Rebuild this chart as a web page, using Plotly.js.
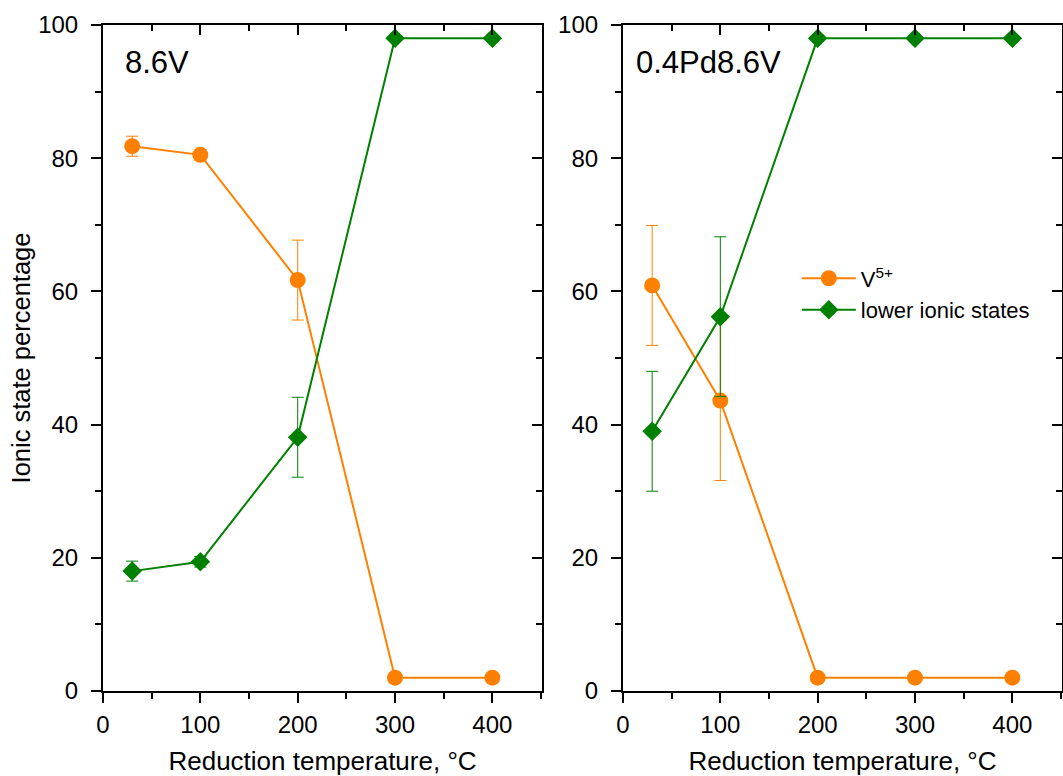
<!DOCTYPE html>
<html>
<head>
<meta charset="utf-8">
<script src="https://cdn.plot.ly/plotly-3.0.1.min.js"></script>
<style>html,body{margin:0;padding:0;background:#fff}#chart{width:1063px;height:776px}</style>
</head>
<body>
<div id="chart"></div>
<script>
// ---- data ----
const tempA = [30, 100, 200, 300, 400];
const v5A = [81.8, 80.5, 61.7, 2, 2];
const v5A_err = [1.5, 0.8, 6, 0, 0];
const lowA = [18.0, 19.4, 38.1, 98, 98];
const lowA_err = [1.5, 0.8, 6, 0, 0];

const tempB = [30, 100, 200, 300, 400];
const v5B = [60.9, 43.6, 2, 2, 2];
const v5B_err = [9, 12, 0, 0, 0];
const lowB = [39.0, 56.2, 98, 98, 98];
const lowB_err = [9, 12, 0, 0, 0];

const seriesNames = ['V<sup>5+</sup>', 'lower ionic states'];
const panelLabels = ['8.6V', '0.4Pd8.6V'];
const xTitle = 'Reduction temperature, °C';
const yTitle = 'Ionic state percentage';

const ORANGE = '#ff8000', GREEN = '#008000';
const FONT = 'Liberation Sans, Arial, sans-serif';

function trace(x, y, err, name, color, symbol, size, xa, ya, showlegend) {
  return {
    x: x, y: y, name: name, type: 'scatter', mode: 'lines+markers',
    xaxis: xa, yaxis: ya, showlegend: showlegend,
    line: {color: color, width: 2},
    marker: {color: color, symbol: symbol, size: size},
    error_y: {type: 'data', array: err, visible: true, color: color, thickness: 1, width: 6}
  };
}

const data = [
  trace(tempA, v5A, v5A_err, seriesNames[0], ORANGE, 'circle', 16, 'x', 'y', false),
  trace(tempA, lowA, lowA_err, seriesNames[1], GREEN, 'diamond', 15, 'x', 'y', false),
  trace(tempB, v5B, v5B_err, seriesNames[0], ORANGE, 'circle', 16, 'x2', 'y2', true),
  trace(tempB, lowB, lowB_err, seriesNames[1], GREEN, 'diamond', 15, 'x2', 'y2', true),
  {x: [], y: [], xaxis: 'x3', yaxis: 'y3', showlegend: false, type: 'scatter'},
  {x: [], y: [], xaxis: 'x4', yaxis: 'y4', showlegend: false, type: 'scatter'}
];

const XR = [0, 451], YR = [0, 100];
const dA = [0, 0.4578], dB = [0.5422, 1];

function xBottom(domain, anchor) {
  return {
    domain: domain, anchor: anchor, range: XR, side: 'bottom',
    showgrid: false, zeroline: false, showline: true, linecolor: 'black', linewidth: 2,
    ticks: 'outside', ticklen: 10, tickwidth: 2, tickcolor: 'black', dtick: 100, tick0: 0,
    minor: {dtick: 50, ticks: 'outside', ticklen: 6, tickwidth: 2, tickcolor: 'black', showgrid: false},
    tickfont: {family: FONT, size: 24, color: 'black'}, ticklabelstandoff: 1,
    title: {text: xTitle, font: {family: FONT, size: 26, color: 'black'}, standoff: 17}
  };
}
function yLeft(anchor, withTitle) {
  const o = {
    domain: [0, 1], anchor: anchor, range: YR, side: 'left',
    showgrid: false, zeroline: false, showline: true, linecolor: 'black', linewidth: 2,
    ticks: 'outside', ticklen: 10, tickwidth: 2, tickcolor: 'black', dtick: 20, tick0: 0,
    minor: {dtick: 10, ticks: 'outside', ticklen: 6, tickwidth: 2, tickcolor: 'black', showgrid: false},
    tickfont: {family: FONT, size: 24, color: 'black'}, ticklabelstandoff: 8
  };
  if (withTitle) o.title = {text: yTitle, font: {family: FONT, size: 25.5, color: 'black'}, standoff: 0};
  return o;
}
function xTop(over, anchor) {
  return {
    overlaying: over, anchor: anchor, side: 'top', range: XR,
    showgrid: false, zeroline: false, showline: true, linecolor: 'black', linewidth: 2,
    ticks: 'inside', ticklen: 10, tickwidth: 2, tickcolor: 'black', dtick: 100, tick0: 0,
    minor: {dtick: 50, ticks: 'inside', ticklen: 6, tickwidth: 2, tickcolor: 'black', showgrid: false},
    showticklabels: false
  };
}
function yRight(over, anchor) {
  return {
    overlaying: over, anchor: anchor, side: 'right', range: YR,
    showgrid: false, zeroline: false, showline: true, linecolor: 'black', linewidth: 2,
    ticks: 'inside', ticklen: 10, tickwidth: 2, tickcolor: 'black', dtick: 20, tick0: 0,
    minor: {dtick: 10, ticks: 'inside', ticklen: 6, tickwidth: 2, tickcolor: 'black', showgrid: false},
    showticklabels: false
  };
}

const layout = {
  width: 1063, height: 776,
  margin: {l: 103, r: 1, t: 25, b: 85},
  paper_bgcolor: 'white', plot_bgcolor: 'white',
  font: {family: FONT, color: 'black'},
  xaxis: xBottom(dA, 'y'),
  yaxis: yLeft('x', true),
  xaxis2: xBottom(dB, 'y2'),
  yaxis2: yLeft('x2', false),
  xaxis3: xTop('x', 'y'),
  yaxis3: yRight('y', 'x'),
  xaxis4: xTop('x2', 'y2'),
  yaxis4: yRight('y2', 'x2'),
  showlegend: true,
  legend: {
    x: 0.7235, y: 0.651, xanchor: 'left', yanchor: 'top',
    bgcolor: 'rgba(0,0,0,0)', borderwidth: 0,
    font: {family: FONT, size: 22, color: 'black'},
    itemwidth: 54, tracegroupgap: 0
  },
  annotations: [
    {text: panelLabels[0], xref: 'x domain', yref: 'y domain', x: 0.045, y: 0.943,
     xanchor: 'left', yanchor: 'middle', showarrow: false, font: {family: FONT, size: 31, color: 'black'}},
    {text: panelLabels[1], xref: 'x2 domain', yref: 'y2 domain', x: 0.025, y: 0.943,
     xanchor: 'left', yanchor: 'middle', showarrow: false, font: {family: FONT, size: 31, color: 'black'}}
  ]
};

Plotly.newPlot('chart', data, layout, {displayModeBar: false, staticPlot: true});
</script>
</body>
</html>
